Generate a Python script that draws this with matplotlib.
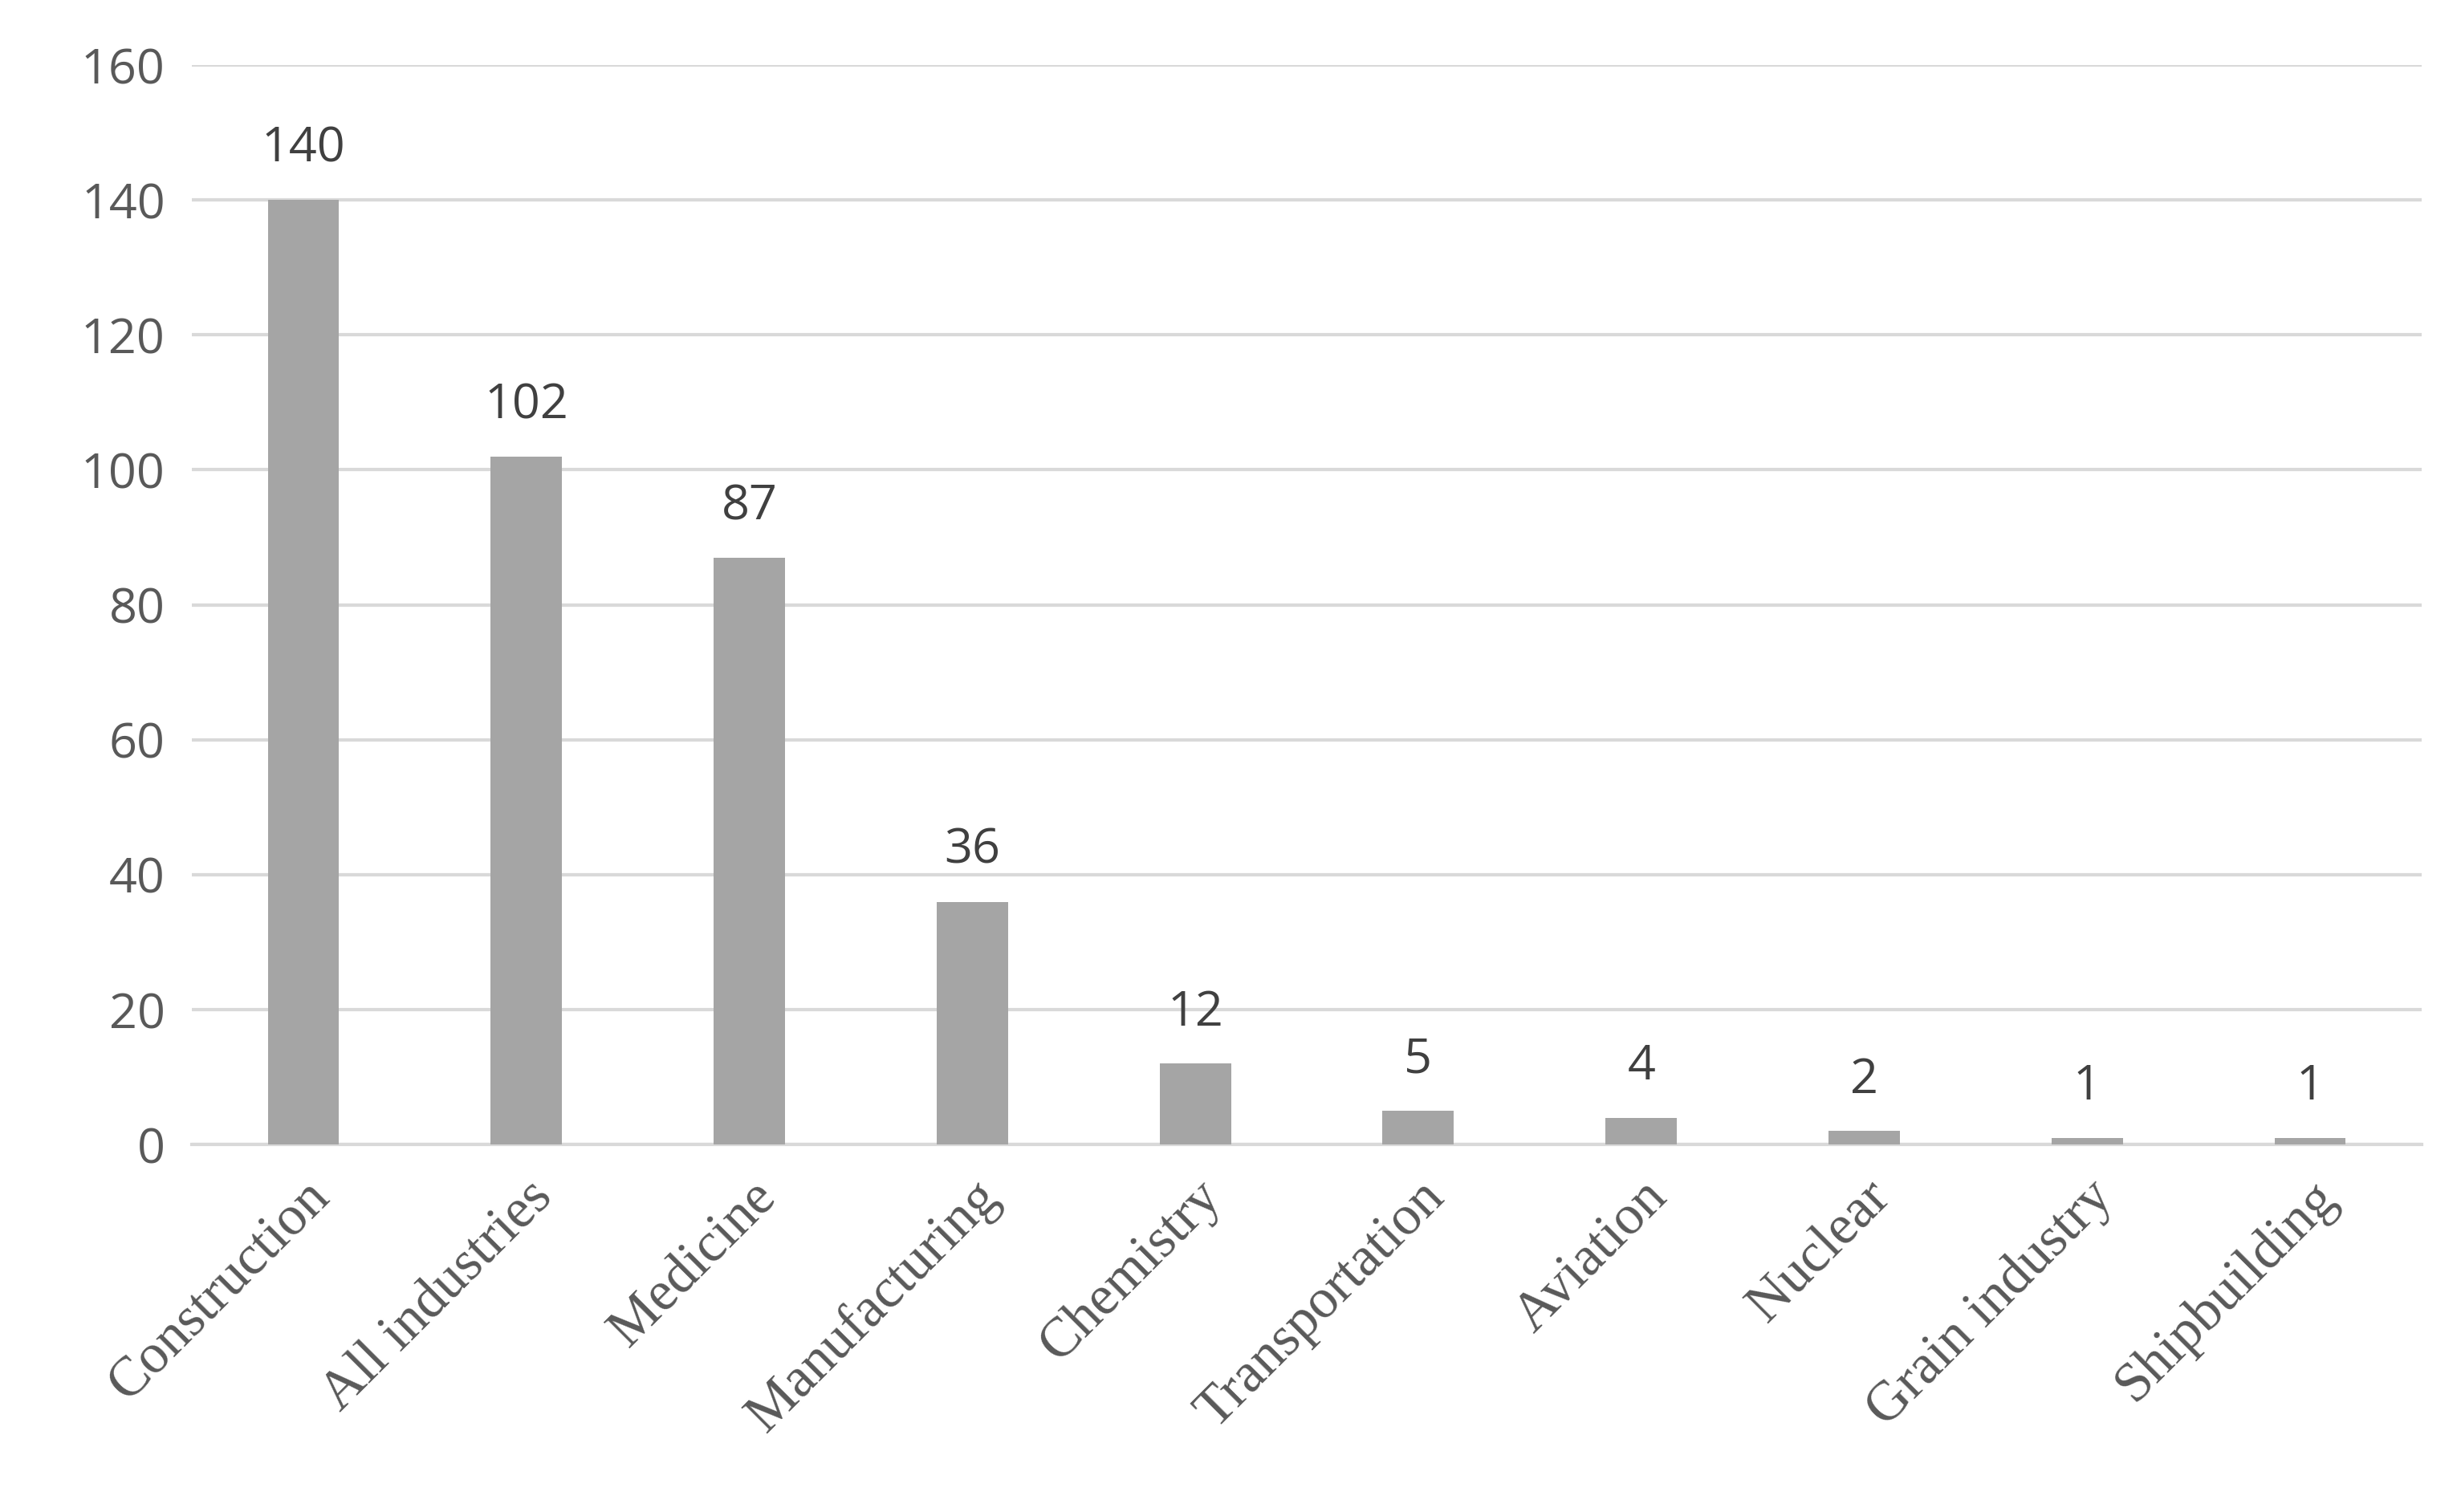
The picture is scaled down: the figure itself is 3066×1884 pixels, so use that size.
import matplotlib
matplotlib.use('Agg')
import matplotlib.pyplot as plt

categories = ['Construction', 'All industries', 'Medicine', 'Manufacturing', 'Chemistry',
              'Transportation', 'Aviation', 'Nuclear', 'Grain industry', 'Shipbuilding']
values = [140, 102, 87, 36, 12, 5, 4, 2, 1, 1]
y_ticks = [0, 20, 40, 60, 80, 100, 120, 140, 160]

fig = plt.figure(figsize=(15.33, 9.42), dpi=200)
ax = fig.add_axes([0.078, 0.243, 0.906, 0.714])

x = range(len(categories))
ax.bar(x, values, width=0.32, color='#a5a5a5', zorder=3)
for i, v in zip(x, values):
    ax.text(i, v + 4, str(v), ha='center', va='bottom', fontsize=22,
            family='Open Sans', color='#404040')

ax.set_ylim(0, 160)
ax.set_xlim(-0.5, len(categories) - 0.5)
ax.set_yticks(y_ticks)
ax.set_yticklabels([str(t) for t in y_ticks], family='Open Sans', fontsize=22, color='#595959')
ax.set_xticks(list(x))
ax.set_xticklabels(categories, rotation=45, ha='right', rotation_mode='anchor',
                   family='Liberation Serif', fontsize=25, color='#595959')
ax.tick_params(axis='both', length=0, pad=12)
ax.grid(axis='y', color='#d9d9d9', linewidth=1.5, zorder=0)
for s in ['top', 'right', 'left']:
    ax.spines[s].set_visible(False)
ax.spines['bottom'].set_color('#d9d9d9')
ax.spines['bottom'].set_linewidth(1.5)

fig.savefig('out.png', dpi=200)
